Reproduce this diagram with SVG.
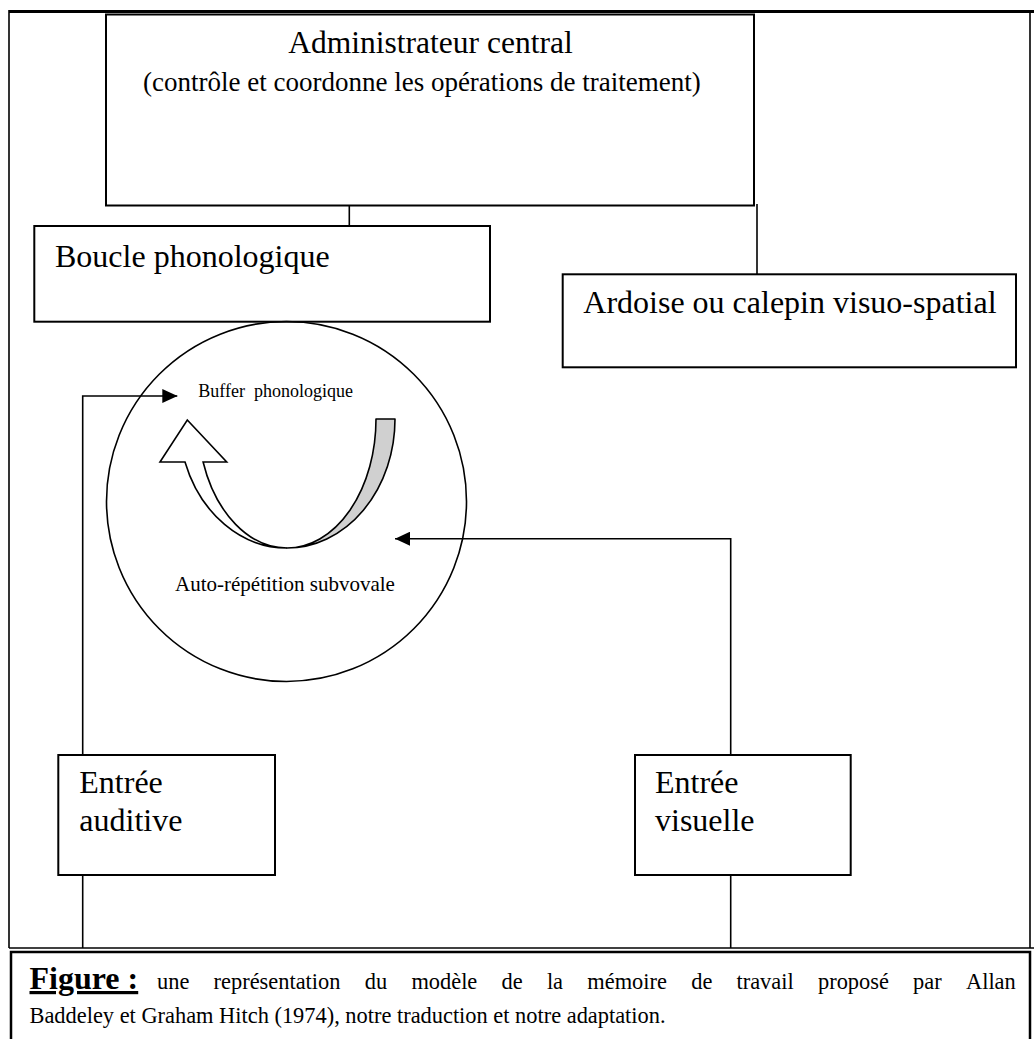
<svg xmlns="http://www.w3.org/2000/svg" width="1034" height="1039" viewBox="0 0 1034 1039">
<style>
.box{fill:#fff;stroke:#000;stroke-width:2}
.ln{fill:none;stroke:#000;stroke-width:1.6}
.t{font-family:"Liberation Serif","Times New Roman",serif;fill:#000}
</style>
<defs>
<marker id="ah" viewBox="0 0 15 14" refX="15" refY="7" markerWidth="15" markerHeight="14" markerUnits="userSpaceOnUse" orient="auto">
<path d="M0,0 L15,7 L0,14 Z" fill="#000"/>
</marker>
</defs>
<rect x="0" y="0" width="1034" height="1039" fill="#fff"/>
<g id="frame">
<line x1="9" y1="11.5" x2="1034" y2="11.5" stroke="#000" stroke-width="3"/>
<line x1="9" y1="10" x2="9" y2="948" stroke="#000" stroke-width="1.6"/>
<line x1="1030" y1="10" x2="1030" y2="948" stroke="#000" stroke-width="1.6"/>
<line x1="9" y1="948" x2="1034" y2="948" stroke="#000" stroke-width="1.6"/>
</g>
<g id="connectors">
<line class="ln" x1="349.3" y1="205" x2="349.3" y2="226"/>
<line class="ln" x1="757" y1="204" x2="757" y2="274.3"/>
<polyline class="ln" points="82.7,755 82.7,396 177.3,396" marker-end="url(#ah)"/>
<line class="ln" x1="82.7" y1="875" x2="82.7" y2="948"/>
<polyline class="ln" points="730.7,755 730.7,538.7 395,538.7" marker-end="url(#ah)"/>
<line class="ln" x1="730.7" y1="875" x2="730.7" y2="948"/>
</g>
<g id="admin">
<rect class="box" x="106" y="14.5" width="648" height="191"/>
<text class="t" x="430.5" y="53" font-size="31.5" text-anchor="middle">Administrateur central</text>
<text class="t" x="143" y="90.5" font-size="27">(contrôle et coordonne les opérations de traitement)</text>
</g>
<g id="boucle">
<rect class="box" x="34.3" y="226" width="455.7" height="95.7"/>
<text class="t" x="55" y="267.3" font-size="32">Boucle phonologique</text>
</g>
<g id="ardoise">
<rect class="box" x="562.7" y="274.3" width="453.3" height="93"/>
<text class="t" x="583.3" y="313.3" font-size="32">Ardoise ou calepin visuo-spatial</text>
</g>
<g id="phono-circle">
<circle cx="286.5" cy="501.5" r="180" fill="none" stroke="#000" stroke-width="1.6"/>
<text class="t" x="198.3" y="397" font-size="18">Buffer&#160; phonologique</text>
<path d="M376,419 L395,419 A108,129 0 0 1 287,548 A89,129 0 0 0 376,419 Z" fill="#d0d0d0" stroke="#000" stroke-width="1.6" stroke-linejoin="round"/>
<path d="M185,462 L160,462 L187.3,420 L226.7,462 L203.1,462 A89,129 0 0 0 287,548 A108,129 0 0 1 185,462 Z" fill="#fff" stroke="#000" stroke-width="1.6" stroke-linejoin="miter"/>
<text class="t" x="175" y="590.7" font-size="21">Auto-répétition subvovale</text>
</g>
<g id="auditive">
<rect class="box" x="58.3" y="755" width="216.7" height="120"/>
<text class="t" x="79.3" y="793.3" font-size="32">Entrée</text>
<text class="t" x="79.3" y="830.5" font-size="32">auditive</text>
</g>
<g id="visuelle">
<rect class="box" x="635" y="755" width="215.7" height="120"/>
<text class="t" x="655" y="793.3" font-size="32">Entrée</text>
<text class="t" x="655" y="830.5" font-size="32">visuelle</text>
</g>
<g id="caption">
<rect x="11" y="952" width="1019" height="100" fill="#fff" stroke="#000" stroke-width="2.5"/>
<text class="t" y="989" font-size="22.4"><tspan x="29.5" font-size="32" font-weight="bold" text-decoration="underline">Figure :</tspan><tspan x="157">une</tspan><tspan x="213.6">représentation</tspan><tspan x="364.7">du</tspan><tspan x="411.4">modèle</tspan><tspan x="501.5">de</tspan><tspan x="546.9">la</tspan><tspan x="587.3">mémoire</tspan><tspan x="691.2">de</tspan><tspan x="736.5">travail</tspan><tspan x="818">proposé</tspan><tspan x="913.1">par</tspan><tspan x="966">Allan</tspan></text>
<text class="t" x="29.5" y="1023" font-size="22.4">Baddeley et Graham Hitch (1974), notre traduction et notre adaptation.</text>
</g>
</svg>
